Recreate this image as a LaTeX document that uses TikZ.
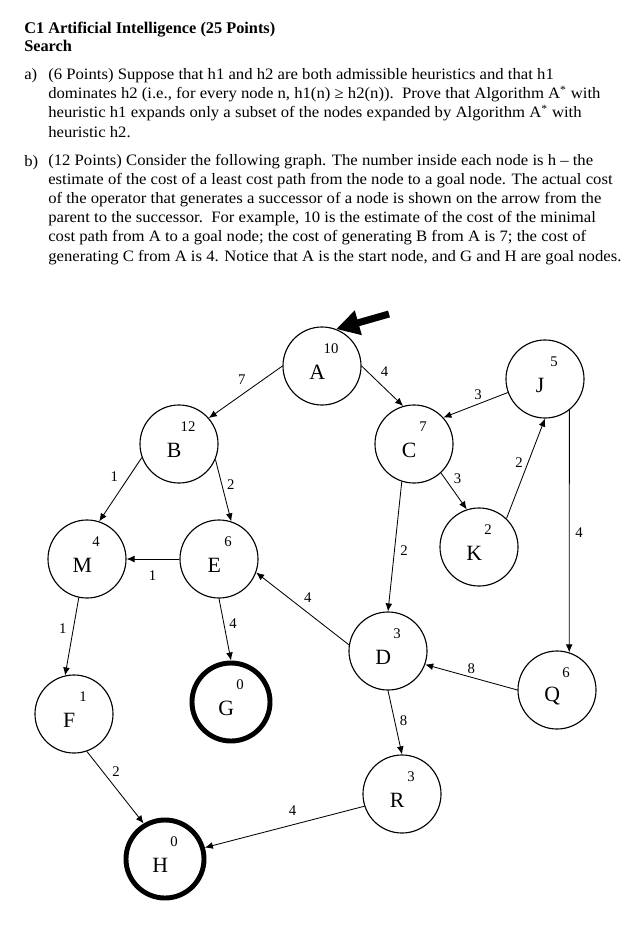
\documentclass[tikz,border=0pt]{standalone}
\usepackage{fontspec}
\setmainfont{Liberation Serif}
\newfontfamily\qfont[FakeStretch=1.05,Ligatures=TeX]{Liberation Serif}
\usetikzlibrary{arrows.meta}

\tikzset{
  state/.style={circle,draw,line width=0.8pt,minimum size=1.95cm,inner sep=0pt},
  goal/.style={state,line width=3.5pt},
  ltr/.style={font=\fontsize{15.5}{15.5}\selectfont,inner sep=0pt,xshift=-0.12cm,yshift=-0.15cm},
  hnum/.style={font=\fontsize{10.5}{10.5}\selectfont,inner sep=0pt,xshift=0.225cm,yshift=0.425cm},
  elbl/.style={font=\fontsize{10.5}{10.5}\selectfont,inner sep=0pt},
  edge/.style={-{Latex[length=2mm,width=1.7mm]},line width=0.6pt},
  para/.style={anchor=base west,align=left,inner sep=0pt,font=\qfont\fontsize{11.3}{13.6}\selectfont},
}

\begin{document}
\begin{tikzpicture}[x=0.025cm,y=-0.025cm]
  \useasboundingbox[fill=white] (0,0) rectangle (641,928);

  % question text (base = last line)
  \node[anchor=base west,align=left,inner sep=0pt,font=\bfseries\fontsize{11.6}{12.8}\selectfont]
    (title) at (24,51) {C1 Artificial Intelligence (25 Points)\\Search};
  \node[para] (qa) at (24,79) {a)};
  \node[para] (texta) at (48,137) {(6 Points) Suppose that h1 and h2 are both admissible heuristics and that h1\\
    dominates h2 (i.e., for every node n, h1(n) ≥ h2(n)).\ \ Prove that Algorithm A\textsuperscript{*} with\\
    heuristic h1 expands only a subset of the nodes expanded by Algorithm A\textsuperscript{*} with\\
    heuristic h2.};
  \node[para] (qb) at (24,166) {b)};
  \node[para] (textb) at (48,261) {(12 Points) Consider the following graph. The number inside each node is h – the\\
    estimate of the cost of a least cost path from the node to a goal node. The actual cost\\
    of the operator that generates a successor of a node is shown on the arrow from the\\
    parent to the successor.\ \ For example, 10 is the estimate of the cost of the minimal\\
    cost path from A to a goal node; the cost of generating B from A is 7; the cost of\\
    generating C from A is 4. Notice that A is the start node, and G and H are goal nodes.};

  % graph
  \foreach \n/\x/\y/\h in {A/322/366/10, B/179/444/12, C/414/444/7, J/545/379/5,
      K/479/547/2, M/87/559/4, E/219/559/6, D/388/651/3, Q/557/690/6,
      F/74/714/1, R/402/794/3}
    \node[state,label={[hnum]center:\h},label={[ltr]center:\n}] (\n) at (\x,\y) {};
  \foreach \n/\x/\y in {G/231/702, H/165/859}
    \node[goal,label={[hnum]center:0},label={[ltr]center:\n}] (\n) at (\x,\y) {};

  \coordinate (start) at (389,314);
  \draw[line width=5pt,-{Triangle[length=0.575cm,width=0.6cm]}] (start) -- (A.69);

  \draw[edge] (A.180) -- node[elbl,pos=.44,above left=3pt] {7} (B.41);
  \draw[edge] (A.0) -- node[elbl,pos=.37,above right=2.5pt] {4} (C.106);
  \draw[edge] (J.200) -- node[elbl,pos=.46,above=3pt] {3} (C.42);
  \draw[edge] (C.-47) -- node[elbl,pos=.37,above right=2pt] {3} (K.108);
  \draw[edge] (K.46) -- node[elbl,pos=.56,left=3.5pt] {2} (J.-90);
  \draw[edge] (C.-108) -- node[elbl,pos=.535,right=4pt] {2} (D.90);
  \draw[edge] (J.-52) -- node[elbl,pos=.506,right=4pt] {4} (Q.72);
  \draw[edge] (B.200) -- node[elbl,pos=.45,above left=3pt] {1} (M.72);
  \draw[edge] (B.-23) -- node[elbl,pos=.4,right=3.5pt] {2} (E.72);
  \draw[edge] (E.180) -- node[elbl,pos=.51,below=8pt] {1} (M.0);
  \draw[edge] (D.171) -- node[elbl,pos=.526,above right=2.5pt] {4} (E.-20);
  \draw[edge] (E.-90) -- node[elbl,pos=.41,right=3.5pt] {4} (G.90);
  \draw[edge] (M.-102) -- node[elbl,pos=.4,left=4.5pt] {1} (F.103);
  \draw[edge] (Q.180) -- node[elbl,pos=.5,above=2pt] {8} (D.-20);
  \draw[edge] (D.-90) -- node[elbl,pos=.47,right=3.5pt] {8} (R.90);
  \draw[edge] (F.-71) -- node[elbl,pos=.39,above right=2pt] {2} (H.121);
  \draw[edge] (R.198) -- node[elbl,pos=.45,above=6pt] {4} (H.16);
\end{tikzpicture}
\end{document}
